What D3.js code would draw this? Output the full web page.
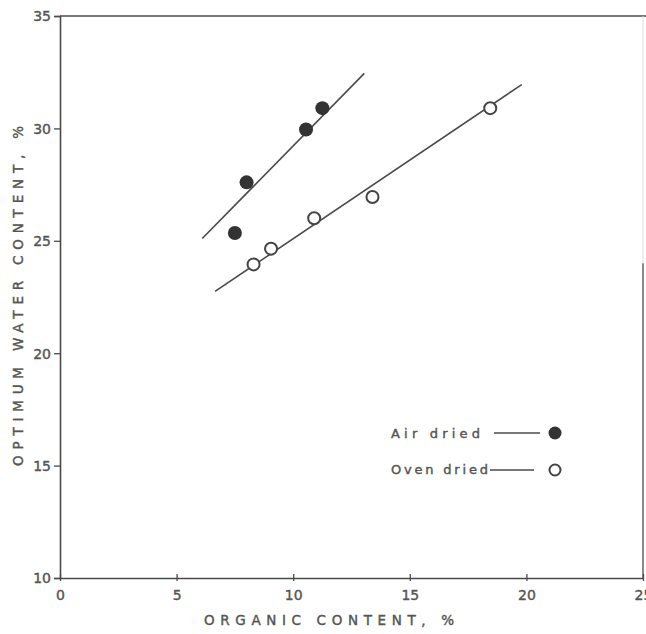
<!DOCTYPE html>
<html lang="en">
<head>
<meta charset="UTF-8">
<title>optimum water content</title>
<style>
  body { margin: 0; background: #fff; }
  text { font-family: "DejaVu Sans", sans-serif; fill: #555; }
  .lbl { stroke: #555; stroke-width: 0.4px; }
</style>
</head>
<body>
<script src="https://cdn.jsdelivr.net/npm/d3@7"></script>
<script>
// air dried samples
const airX = [7.5, 8.0, 10.55, 11.25];
const airY = [25.35, 27.6, 29.95, 30.9];
// oven dried samples
const ovenX = [8.3, 9.05, 10.9, 13.4, 18.45];
const ovenY = [23.95, 24.65, 26.0, 26.95, 30.9];
// fitted lines (end points)
const airFitX = [6.1, 13.05];
const airFitY = [25.1, 32.45];
const ovenFitX = [6.65, 19.8];
const ovenFitY = [22.75, 31.95];
const xTicks = [0, 5, 10, 15, 20, 25];
const yTicks = [10, 15, 20, 25, 30, 35];

const width = 646, height = 634;
const svg = d3.select('body').append('svg')
    .attr('width', width).attr('height', height);

const x = d3.scaleLinear().domain([0, 25]).range([60, 643]);
const y = d3.scaleLinear().domain([10, 35]).range([578, 16]);
const ink = '#4a4a4a';

// frame: top line and right edge
svg.append('line')
    .attr('x1', x(0)).attr('x2', width).attr('y1', y(35)).attr('y2', y(35))
    .attr('stroke', ink).attr('stroke-width', 1.6);
svg.append('line')
    .attr('x1', x(25)).attr('x2', x(25)).attr('y1', y(10)).attr('y2', y(24))
    .attr('stroke', ink).attr('stroke-width', 1.3);
svg.append('line')
    .attr('x1', x(25)).attr('x2', x(25)).attr('y1', y(24)).attr('y2', y(35))
    .attr('stroke', '#ddd').attr('stroke-width', 1);

// axes
const xAxis = svg.append('g')
    .attr('transform', `translate(0,${y(10)})`)
    .call(d3.axisBottom(x).tickValues(xTicks).tickSize(0).tickPadding(12).tickFormat(d3.format('d')));
xAxis.selectAll('.tick').append('line')
    .attr('y1', -4).attr('y2', 3).attr('stroke', ink).attr('stroke-width', 1.3);

const yAxis = svg.append('g')
    .attr('transform', `translate(${x(0)},0)`)
    .call(d3.axisLeft(y).tickValues(yTicks).tickSize(6).tickPadding(3).tickFormat(d3.format('d')));

[xAxis, yAxis].forEach(g => {
  g.select('.domain').attr('stroke', ink).attr('stroke-width', 1.6);
  g.selectAll('.tick line').attr('stroke', ink).attr('stroke-width', 1.3);
  g.selectAll('.tick text')
      .attr('class', 'lbl')
      .style('font-family', '"DejaVu Sans", sans-serif')
      .style('font-size', '14px')
      .attr('fill', '#555');
});
yAxis.selectAll('.tick text').attr('dy', '0.35em');

// axis titles
svg.append('text').attr('class', 'lbl')
    .attr('x', 204).attr('y', 625)
    .attr('textLength', 250).attr('lengthAdjust', 'spacing')
    .style('font-size', '13.5px')
    .text('ORGANIC CONTENT, %');
svg.append('text').attr('class', 'lbl')
    .attr('transform', 'translate(23,466) rotate(-90)')
    .attr('textLength', 340).attr('lengthAdjust', 'spacing')
    .style('font-size', '13.5px')
    .text('OPTIMUM WATER CONTENT, %');

// fitted lines
const line = d3.line().x(d => x(d[0])).y(d => y(d[1]));
svg.append('path')
    .attr('d', line(d3.zip(airFitX, airFitY)))
    .attr('fill', 'none').attr('stroke', ink).attr('stroke-width', 1.6);
svg.append('path')
    .attr('d', line(d3.zip(ovenFitX, ovenFitY)))
    .attr('fill', 'none').attr('stroke', ink).attr('stroke-width', 1.6);

// points
svg.append('g').selectAll('circle')
    .data(d3.zip(airX, airY)).enter()
    .append('circle')
    .attr('cx', d => x(d[0])).attr('cy', d => y(d[1]))
    .attr('r', 7).attr('fill', '#333');
svg.append('g').selectAll('circle')
    .data(d3.zip(ovenX, ovenY)).enter()
    .append('circle')
    .attr('cx', d => x(d[0])).attr('cy', d => y(d[1]))
    .attr('r', 6).attr('fill', '#fff').attr('stroke', '#444').attr('stroke-width', 2);

// legend
const legend = svg.append('g').attr('transform', 'translate(391,0)');
legend.append('text').attr('class', 'lbl').attr('x', 0).attr('y', 438)
    .attr('textLength', 89).attr('lengthAdjust', 'spacing')
    .style('font-size', '13px').text('Air dried');
legend.append('line').attr('x1', 103).attr('x2', 149).attr('y1', 433).attr('y2', 433)
    .attr('stroke', ink).attr('stroke-width', 1.5);
legend.append('circle').attr('cx', 164).attr('cy', 433).attr('r', 6.5).attr('fill', '#333');
legend.append('text').attr('class', 'lbl').attr('x', 0).attr('y', 474)
    .attr('textLength', 97).attr('lengthAdjust', 'spacing')
    .style('font-size', '13px').text('Oven dried');
legend.append('line').attr('x1', 99).attr('x2', 143).attr('y1', 470).attr('y2', 470)
    .attr('stroke', ink).attr('stroke-width', 1.5);
legend.append('circle').attr('cx', 164).attr('cy', 470).attr('r', 5.5)
    .attr('fill', '#fff').attr('stroke', '#444').attr('stroke-width', 2);
</script>
</body>
</html>
